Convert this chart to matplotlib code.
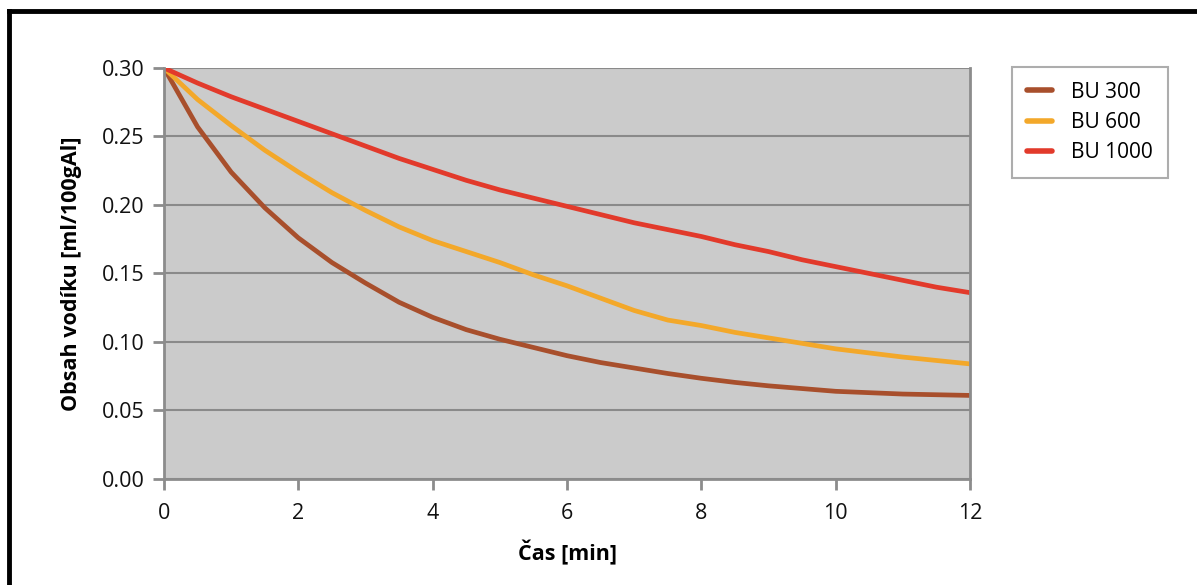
import matplotlib.pyplot as plt
from matplotlib.lines import Line2D

# %%
cas = [0, 0.5, 1, 1.5, 2, 2.5, 3, 3.5, 4, 4.5, 5, 5.5, 6,
       6.5, 7, 7.5, 8, 8.5, 9, 9.5, 10, 10.5, 11, 11.5, 12]
bu300 = [0.300, 0.257, 0.224, 0.198, 0.176, 0.158, 0.143, 0.129, 0.118, 0.109, 0.102, 0.096, 0.090,
         0.085, 0.081, 0.077, 0.0735, 0.0705, 0.068, 0.066, 0.064, 0.063, 0.062, 0.0615, 0.061]
bu600 = [0.300, 0.277, 0.258, 0.240, 0.224, 0.209, 0.196, 0.184, 0.174, 0.166, 0.158, 0.149, 0.141,
         0.132, 0.123, 0.116, 0.112, 0.107, 0.103, 0.099, 0.095, 0.092, 0.089, 0.0865, 0.084]
bu1000 = [0.300, 0.289, 0.279, 0.270, 0.261, 0.252, 0.243, 0.234, 0.226, 0.218, 0.211, 0.205, 0.199,
          0.193, 0.187, 0.182, 0.177, 0.171, 0.166, 0.160, 0.155, 0.150, 0.145, 0.140, 0.136]

series = [('BU 300', bu300, '#a84f2c'),
          ('BU 600', bu600, '#f3a82a'),
          ('BU 1000', bu1000, '#e23a2b')]

x_ticks = [0, 2, 4, 6, 8, 10, 12]
y_ticks = [0.00, 0.05, 0.10, 0.15, 0.20, 0.25, 0.30]

# %%
plt.rcParams['font.family'] = ['Open Sans', 'DejaVu Sans']

fig = plt.figure(figsize=(11.97, 5.85), dpi=100)
ax = fig.add_axes([0.137, 0.1812, 0.6734, 0.7026])
ax.set_facecolor('#cbcbcb')

for name, vals, col in series:
    ax.plot(cas, vals, color=col, lw=3.4, label=name,
            solid_capstyle='round', solid_joinstyle='round')

ax.set_xlim(0, 12)
ax.set_ylim(0, 0.30)
ax.set_xticks(x_ticks)
ax.set_yticks(y_ticks)
ax.set_yticklabels([f'{v:.2f}' for v in y_ticks])
ax.yaxis.grid(True, color='#8a8a8a', lw=1.5)
ax.set_axisbelow(True)

for side in ['left', 'bottom', 'right']:
    ax.spines[side].set_color('#8c8c8c')
    ax.spines[side].set_linewidth(2)
ax.spines['top'].set_visible(False)
ax.tick_params(axis='both', colors='#8c8c8c', width=2, length=8,
               labelcolor='#111111', labelsize=15.5)
ax.tick_params(axis='x', pad=9)
ax.tick_params(axis='y', pad=6)

ax.set_xlabel('Čas [min]', fontsize=15.5, fontweight='bold', labelpad=12)
ax.set_ylabel('Obsah vodíku [ml/100gAl]', fontsize=15.5, fontweight='bold', labelpad=14)

leg = ax.legend(loc='upper left', bbox_to_anchor=(1.052, 1.002), fontsize=15,
                frameon=True, fancybox=False, edgecolor='#999999',
                handlelength=1.2, handletextpad=0.95, borderpad=0.7,
                labelspacing=0.45, borderaxespad=0)
leg.get_frame().set_linewidth(1.5)
for h in leg.get_lines():
    h.set_linewidth(4)

# partial black frame (left and top)
fig.add_artist(Line2D([0.0075, 0.0075], [0, 0.982], color='black', lw=3.5,
                      transform=fig.transFigure))
fig.add_artist(Line2D([0.0075, 1.0], [0.982, 0.982], color='black', lw=3.5,
                      transform=fig.transFigure))

fig.savefig('out.png', dpi=100)
